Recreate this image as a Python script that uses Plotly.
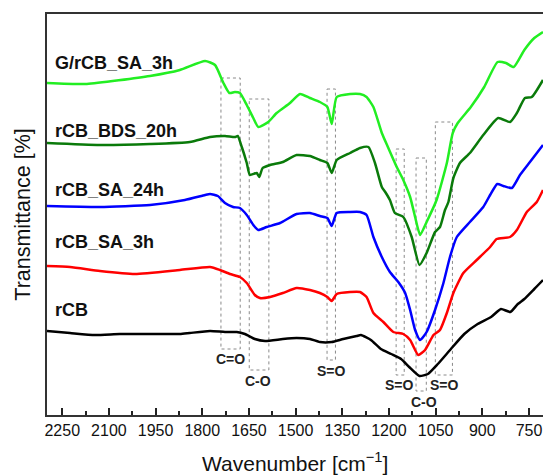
import plotly.graph_objects as go

# ---- data (arbitrary transmittance units, stacked spectra) ----
wn_g = [2299, 2171, 1968, 1872, 1791, 1759, 1732, 1713, 1695, 1679, 1657, 1636, 1620, 1588, 1561, 1518,
        1486, 1454, 1422, 1398, 1384, 1368, 1325, 1293, 1272, 1250, 1223, 1202, 1175, 1154, 1132, 1116,
        1100, 1079, 1047, 1014, 995, 979, 937, 894, 851, 824, 799, 765, 733, 705]
t_g = [332, 331, 339, 345, 354, 350, 332, 322, 323, 322, 310, 297, 288, 293, 302, 312,
       321, 317, 313, 308, 291, 318, 321, 321, 318, 308, 282, 267, 248, 235, 218, 198,
       180, 193, 215, 252, 282, 292, 308, 328, 353, 352, 348, 365, 377, 383]

wn_dg = [2299, 2129, 1968, 1840, 1775, 1727, 1695, 1686, 1673, 1657, 1647, 1625, 1617, 1606, 1582, 1541,
         1497, 1454, 1422, 1398, 1384, 1368, 1325, 1293, 1266, 1245, 1223, 1212, 1197, 1181, 1154, 1127,
         1102, 1079, 1052, 1036, 1020, 1009, 993, 972, 940, 897, 849, 811, 789, 763, 741, 705]
t_dg = [272, 270, 271, 273, 278, 279, 278, 279, 268, 252, 240, 242, 238, 247, 250, 253,
        260, 259, 255, 252, 242, 255, 262, 267, 268, 252, 228, 223, 215, 202, 198, 178,
        150, 162, 183, 188, 205, 213, 237, 252, 262, 280, 297, 293, 302, 317, 318, 335]

wn_b = [2299, 2129, 1968, 1856, 1791, 1775, 1750, 1727, 1701, 1679, 1657, 1636, 1620, 1593, 1550, 1497,
        1454, 1422, 1398, 1384, 1368, 1325, 1293, 1272, 1250, 1223, 1197, 1170, 1148, 1132, 1116, 1100,
        1079, 1052, 1025, 1004, 982, 940, 897, 875, 852, 832, 805, 779, 747, 705]
t_b = [209, 208, 210, 215, 220, 221, 219, 212, 208, 207, 200, 190, 185, 188, 192, 201,
       202, 199, 197, 189, 202, 203, 203, 200, 178, 158, 143, 133, 122, 105, 85, 75,
       83, 105, 132, 158, 178, 193, 208, 220, 231, 229, 227, 240, 253, 270]

wn_r = [2299, 2225, 2129, 2016, 1872, 1775, 1743, 1711, 1679, 1657, 1631, 1615, 1582, 1541, 1497, 1454,
        1422, 1398, 1384, 1368, 1325, 1293, 1272, 1250, 1218, 1186, 1154, 1132, 1106, 1084, 1057, 1036,
        1014, 993, 961, 918, 875, 854, 811, 789, 757, 725, 705]
t_r = [149, 148, 144, 141, 145, 148, 145, 141, 138, 132, 120, 117, 118, 122, 127, 125,
       122, 118, 114, 121, 123, 123, 118, 102, 93, 83, 81, 75, 60, 65, 80, 85,
       102, 122, 142, 155, 168, 176, 178, 185, 203, 213, 225]

wn_k = [2299, 2225, 2145, 2065, 1968, 1872, 1840, 1775, 1727, 1689, 1663, 1631, 1598, 1541, 1497, 1454,
        1422, 1384, 1347, 1304, 1290, 1258, 1226, 1193, 1161, 1135, 1102, 1075, 1043, 1001, 958, 915,
        872, 840, 810, 786, 765, 733, 705]
t_k = [84, 82, 80, 81, 81, 81, 82, 84, 83, 83, 81, 76, 74, 76, 77, 76,
       73, 73, 76, 79, 80, 75, 66, 61, 56, 48, 39, 41, 51, 66, 81, 91,
       98, 106, 103, 111, 116, 126, 135]

series_names = ["G/rCB_SA_3h", "rCB_BDS_20h", "rCB_SA_24h", "rCB_SA_3h", "rCB"]
series_colors = ["#22EE22", "#0A7A0A", "#0000FF", "#FF0000", "#000000"]
series_wn = [wn_g, wn_dg, wn_b, wn_r, wn_k]
series_t = [t_g, t_dg, t_b, t_r, t_k]
label_y = [352, 284, 225, 173, 105]

# band boxes
box_wn_hi = [1740, 1649, 1399, 1177, 1113, 1051]
box_wn_lo = [1678, 1586, 1372, 1151, 1080, 996]
box_top = [337, 316, 326, 266, 257, 293]
box_bot = [66, 45, 55, 40, 24, 40]
box_label = ["C=O", "C-O", "S=O", "S=O", "C-O", "S=O"]
box_label_wn = [1709, 1621, 1386, 1165, 1086, 1023]
box_label_t = [56, 34.5, 44.5, 30, 13.3, 30]

FONT = "Liberation Sans, Arial, sans-serif"

fig = go.Figure()
for w, t, c in zip(series_wn, series_t, series_colors):
    fig.add_trace(go.Scatter(x=w, y=t, mode="lines",
                             line=dict(color=c, width=2.5, shape="spline", smoothing=0.5),
                             showlegend=False, hoverinfo="skip"))

for x0, x1, y0, y1 in zip(box_wn_hi, box_wn_lo, box_top, box_bot):
    fig.add_shape(type="rect", x0=x0, x1=x1, y0=y0, y1=y1, xref="x", yref="y",
                  line=dict(color="#8a8a8a", width=1, dash="dot"), layer="below")

for lab, lw, lt in zip(box_label, box_label_wn, box_label_t):
    fig.add_annotation(x=lw, y=lt, xref="x", yref="y", text="<b>" + lab + "</b>",
                       showarrow=False, font=dict(family=FONT, size=14, color="#222222"),
                       xanchor="center", yanchor="middle")

for name, ly in zip(series_names, label_y):
    fig.add_annotation(x=2281, y=ly, xref="x", yref="y", text="<b>" + name + "</b>",
                       showarrow=False, font=dict(family=FONT, size=18, color="#111111"),
                       xanchor="left", yanchor="middle")

fig.add_annotation(x=0.5, y=-0.118, xref="paper", yref="paper",
                   text="Wavenumber [cm<sup>−1</sup>]", showarrow=False,
                   font=dict(family=FONT, size=21, color="#111111"),
                   xanchor="center", yanchor="middle")
fig.add_annotation(x=-0.05, y=0.5, xref="paper", yref="paper",
                   text="Transmittance [%]", showarrow=False, textangle=-90,
                   font=dict(family=FONT, size=21.5, color="#111111"),
                   xanchor="center", yanchor="middle")

fig.update_layout(
    width=543, height=475,
    margin=dict(l=47, r=0, t=14, b=60),
    paper_bgcolor="white", plot_bgcolor="white",
    xaxis=dict(range=[2299, 705], tick0=750, dtick=150, ticks="inside", ticklen=7,
               tickwidth=1.5, tickcolor="#222", showline=True, linecolor="#333",
               linewidth=2, mirror=True, showgrid=False, zeroline=False,
               tickfont=dict(family=FONT, size=16, color="#111"),
               minor=dict(dtick=75, tick0=750, ticks="inside", ticklen=4,
                          tickcolor="#222", tickwidth=1.5, showgrid=False)),
    yaxis=dict(range=[0, 401], showline=True, linecolor="#333", linewidth=2,
               mirror=False, showticklabels=False, ticks="", showgrid=False,
               zeroline=False),
)

fig.write_html("out.html", config={"displayModeBar": False},
               post_script="document.body.style.margin='0';document.body.style.overflow='hidden';")
